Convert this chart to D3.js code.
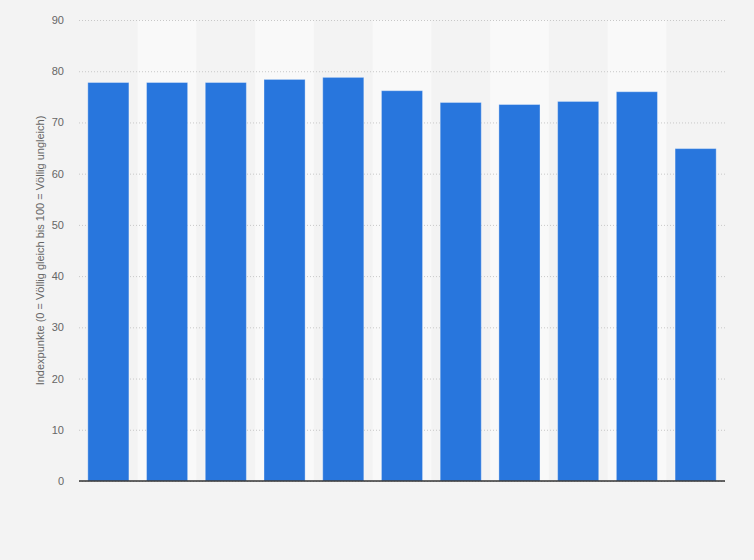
<!DOCTYPE html>
<html>
<head>
<meta charset="utf-8">
<script src="https://cdn.jsdelivr.net/npm/d3@7"></script>
<style>
  body { margin: 0; background: #f3f3f3; }
  svg { display: block; font-family: "Liberation Sans", Arial, sans-serif; }
</style>
</head>
<body>
<svg width="754" height="560"></svg>
<script>
var categories = ["1", "2", "3", "4", "5", "6", "7", "8", "9", "10", "11"];
var values = [77.8, 77.8, 77.8, 78.4, 78.8, 76.2, 73.9, 73.5, 74.1, 76.0, 64.9];
var yTicks = [0, 10, 20, 30, 40, 50, 60, 70, 80, 90];
var yLabel = "Indexpunkte (0 = Völlig gleich bis 100 = Völlig ungleich)";

var svg = d3.select("svg"),
    margin = { top: 20, right: 29, bottom: 79, left: 79 },
    width = +svg.attr("width") - margin.left - margin.right,
    height = +svg.attr("height") - margin.top - margin.bottom;

svg.append("rect").attr("width", 754).attr("height", 560).attr("fill", "#f3f3f3");

var x = d3.scaleBand().domain(categories).range([0, width]).paddingInner(0.3).paddingOuter(0.15),
    xb = d3.scaleBand().domain(categories).range([0, width]),
    y = d3.scaleLinear().domain([0, 90]).range([height, 0]);

var g = svg.append("g")
    .attr("transform", "translate(" + margin.left + "," + margin.top + ")");

// alternating column bands
g.selectAll(".band")
    .data(categories.filter(function(d, i) { return i % 2 === 1; }))
    .enter().append("rect")
    .attr("class", "band")
    .attr("x", function(d) { return xb(d); })
    .attr("y", 0)
    .attr("width", xb.bandwidth())
    .attr("height", height)
    .attr("fill", "#f9f9f9");

// grid + y axis
var yAxis = g.append("g")
    .call(d3.axisLeft(y).tickValues(yTicks).tickSize(-width).tickPadding(15));
yAxis.select(".domain").remove();
yAxis.selectAll(".tick line")
    .attr("stroke", "#c8c8c8")
    .attr("stroke-dasharray", "1,2")
    .attr("stroke-width", 1);
yAxis.selectAll(".tick text")
    .attr("fill", "#666")
    .style("font-size", "11px");

svg.append("text")
    .attr("transform", "translate(44," + (margin.top + height / 2) + ") rotate(-90)")
    .attr("text-anchor", "middle")
    .attr("fill", "#666")
    .style("font-size", "11px")
    .text(yLabel);

g.selectAll(".bar")
    .data(values)
    .enter().append("rect")
    .attr("class", "bar")
    .attr("x", function(d, i) { return x(categories[i]); })
    .attr("y", function(d) { return y(d); })
    .attr("width", x.bandwidth())
    .attr("height", function(d) { return height - y(d); })
    .attr("fill", "#2876dd")
    .attr("stroke", "rgba(255,255,255,0.35)")
    .attr("stroke-width", 1);

g.append("line")
    .attr("x1", 0).attr("x2", width)
    .attr("y1", y(0)).attr("y2", y(0))
    .attr("stroke", "#333")
    .attr("stroke-width", 1.5);
</script>
</body>
</html>
